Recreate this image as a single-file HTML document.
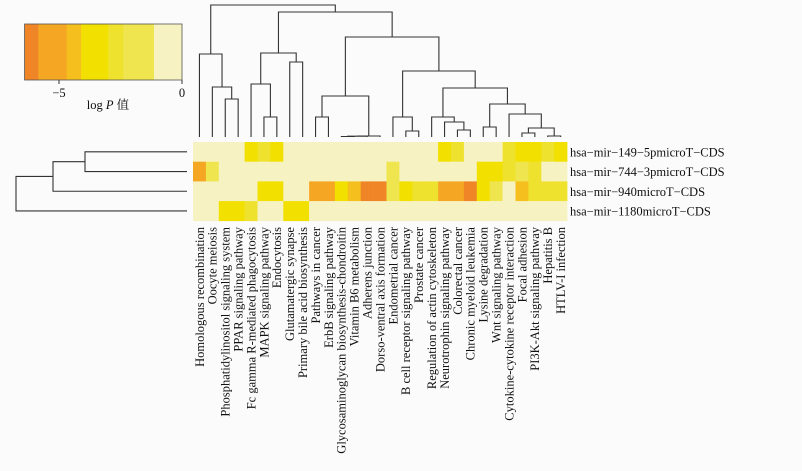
<!DOCTYPE html>
<html><head><meta charset="utf-8"><style>
html,body{margin:0;padding:0;background:#fbfbfb;}
svg{display:block;font-family:"Liberation Serif","Noto Serif CJK SC",serif;}
</style></head><body>
<svg id="c" width="802" height="471" viewBox="0 0 802 471" xmlns="http://www.w3.org/2000/svg"></svg>
<script>
const columns=["Homologous recombination","Oocyte meiosis","Phosphatidylinositol signaling system","PPAR signaling pathway","Fc gamma R-mediated phagocytosis","MAPK signaling pathway","Endocytosis","Glutamatergic synapse","Primary bile acid biosynthesis","Pathways in cancer","ErbB signaling pathway","Glycosaminoglycan biosynthesis-chondroitin","Vitamin B6 metabolism","Adherens junction","Dorso-ventral axis formation","Endometrial cancer","B cell receptor signaling pathway","Prostate cancer","Regulation of actin cytoskeleton","Neurotrophin signaling pathway","Colorectal cancer","Chronic myeloid leukemia","Lysine degradation","Wnt signaling pathway","Cytokine-cytokine receptor interaction","Focal adhesion","PI3K-Akt signaling pathway","Hepatitis B","HTLV-I infection"];
const rows=["hsa\u2212mir\u2212149\u22125pmicroT\u2212CDS","hsa\u2212mir\u2212744\u22123pmicroT\u2212CDS","hsa\u2212mir\u2212940microT\u2212CDS","hsa\u2212mir\u22121180microT\u2212CDS"];
const P=-0.3;
const row0=[P,P,P,P,-3.5,-2.7,-3.5,P,P,P,P,P,P,P,P,P,P,P,P,-3.5,-2.7,P,P,P,-2.7,-3.5,-3.5,-2.7,-3.5];
const row1=[-5.3,-1.8,P,P,P,P,P,P,P,P,P,P,P,P,P,-1.8,P,P,P,P,P,P,-3.5,-3.5,-2.7,-1.8,-2.7,P,P];
const row2=[P,P,P,P,P,-3.5,-3.5,P,P,-5.3,-5.3,-3.5,-4.4,-6.2,-6.2,-1.8,-3.5,-2.7,-2.7,-5.3,-5.3,-6.2,-3.5,-1.8,P,-4.4,-2.7,-2.7,-2.7];
const row3=[P,P,-3.5,-3.5,-2.7,P,P,-3.5,-3.5,P,P,P,P,P,P,P,P,P,P,P,P,P,P,P,P,P,P,P,P];
const values=[row0,row1,row2,row3];
const legendBreaks=[-6.4,-5.84,-4.69,-4.1,-3.0,-2.39,-1.14,0];
const legendColors=["#ef8526","#f5a623","#f5bf1e","#f2e000","#efe22e","#eee54f","#f6f2c2"];
const legendTicks=[-5,0];
// column dendrogram merges: [left node, right node, height]; leaves 0..28, new nodes 29..
const colMerges=[[2,3,38],[1,29,50],[0,30,83],[5,6,20],[4,32,53],[7,8,75],[33,34,84],[9,10,20],[11,12,0.5],[13,37,0.8],[14,38,1],[36,39,41],[16,17,6],[15,41,20],[20,21,7],[19,43,15],[18,44,20],[22,23,10],[25,26,4],[27,28,1],[47,48,9],[24,49,23],[46,50,33],[45,51,49],[42,52,66],[40,53,100],[35,54,125],[31,55,132]];
const rowMerges=[[0,1,102],[4,2,134],[5,3,171]];

const svg=document.getElementById('c');
const NS='http://www.w3.org/2000/svg';
function mk(t,a,p){const e=document.createElementNS(NS,t);for(const k in a)e.setAttribute(k,a[k]);(p||svg).appendChild(e);return e;}
const X0=193,CW=12.9,Y0=142,RH=19.7;
const xCol=i=>X0+CW*(i+0.5);
const yRow=j=>Y0+RH*(j+0.5);
function color(v){for(let k=0;k<legendColors.length;k++){if(v<legendBreaks[k+1])return legendColors[k];}return legendColors[legendColors.length-1];}

// heatmap
const hm=mk('g',{});


values.forEach((r,j)=>r.forEach((v,i)=>{
  const c=mk('rect',{x:X0+CW*i,y:Y0+RH*j,width:CW+0.3,height:RH+0.3,fill:color(v)},hm);
  
  
}));
// row labels
rows.forEach((r,j)=>{
  const t=mk('text',{x:570,y:yRow(j)+4.5,'font-size':'12.5',fill:'#111'});
  t.textContent=r;
  
  
});
// column labels
columns.forEach((c,i)=>{
  const x=xCol(i)+4.3,y=227;
  const t=mk('text',{x:x,y:y,'font-size':'12.5',fill:'#111','text-anchor':'end',transform:`rotate(-90 ${x} ${y})`});
  t.textContent=c;
  
  
});
// column dendrogram
const BASE=137,HS=1.0;
const dg=mk('g',{stroke:'#333','stroke-width':'1.1',fill:'none'});


const nodes=columns.map((c,i)=>({p:xCol(i),h:0}));
colMerges.forEach(m=>{
  const a=nodes[m[0]],b=nodes[m[1]],yy=BASE-m[2]*HS;
  mk('path',{d:`M${a.p},${BASE-a.h*HS}V${yy}H${b.p}V${BASE-b.h*HS}`},dg);
  nodes.push({p:(a.p+b.p)/2,h:m[2]});
});
// row dendrogram
const RB=187;
const rg=mk('g',{stroke:'#333','stroke-width':'1.1',fill:'none'});


const rn=rows.map((r,j)=>({p:yRow(j),h:0}));
rowMerges.forEach(m=>{
  const a=rn[m[0]],b=rn[m[1]],xx=RB-m[2];
  mk('path',{d:`M${RB-a.h},${a.p}H${xx}V${b.p}H${RB-b.h}`},rg);
  rn.push({p:(a.p+b.p)/2,h:m[2]});
});
// legend
const lg=mk('g',{});


const LX=v=>182+(v-0)*24.6;
legendColors.forEach((c,k)=>{
  mk('rect',{x:LX(legendBreaks[k]),y:24,width:LX(legendBreaks[k+1])-LX(legendBreaks[k])+0.3,height:56,fill:c},lg);
});
mk('rect',{x:LX(legendBreaks[0]),y:24,width:LX(0)-LX(legendBreaks[0]),height:56,fill:'none',stroke:'#555','stroke-width':'0.8'},lg);
legendTicks.forEach(v=>{
  mk('line',{x1:LX(v),x2:LX(v),y1:80,y2:84,stroke:'#333'},lg);
  const t=mk('text',{x:LX(v),y:97,'font-size':'12.5','text-anchor':'middle',fill:'#111'},lg);
  t.textContent=v<0?'\u2212'+Math.abs(v):String(v);
  
  
});
const lt=mk('text',{x:108,y:109,'font-size':'12.5','text-anchor':'middle',fill:'#111'},lg);
lt.innerHTML='log <tspan font-style="italic">P</tspan> 值';


</script>
</body></html>
